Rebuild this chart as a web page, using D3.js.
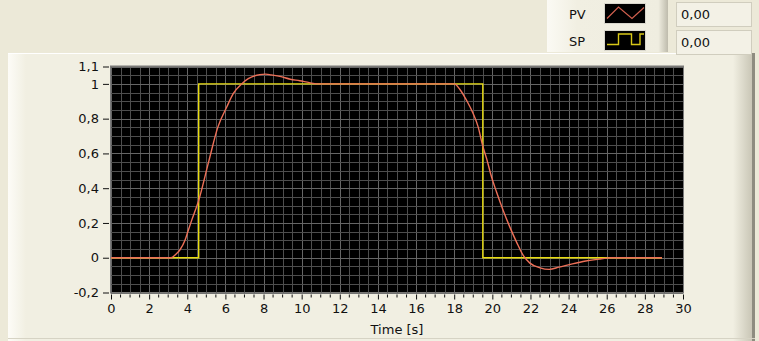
<!DOCTYPE html>
<html>
<head>
<meta charset="utf-8">
<script src="https://cdn.jsdelivr.net/npm/d3@7"></script>
<style>
  body { margin: 0; background: #ECE9D8; }
  svg { display: block; }
  text { font-family: Tahoma, "DejaVu Sans", sans-serif; font-size: 13px; fill: #111; }
</style>
</head>
<body>
<div id="chart"></div>
<script>
// PV samples (time in s, value)
const pvTime = [0, 3.15, 3.4, 3.62, 3.88, 4.05, 4.23, 4.6, 5.14, 5.6, 6.07, 6.41, 6.85, 7.2, 7.8, 8.1, 8.4, 8.86, 9.4, 9.9, 10.4, 10.8,
  18.0, 18.3, 18.65, 19.0, 19.26, 19.49, 19.7, 19.96, 20.22, 20.57, 20.92, 21.27, 21.62, 21.97, 22.5, 22.98, 23.5, 24.2, 24.9, 25.6, 26.0, 26.2, 28.9];
const pvValue = [0, 0, 0.02, 0.046, 0.1, 0.157, 0.215, 0.33, 0.56, 0.75, 0.867, 0.944, 1.0, 1.03, 1.053, 1.056, 1.052, 1.043, 1.027, 1.018, 1.007, 1.0,
  1.0, 0.968, 0.905, 0.828, 0.751, 0.646, 0.57, 0.464, 0.378, 0.272, 0.176, 0.09, 0.013, -0.031, -0.058, -0.067, -0.054, -0.035, -0.019, -0.008, -0.002, 0, 0];

// SP step (time in s, value)
const spTime = [0, 4.6, 4.6, 19.5, 19.5, 28.9];
const spValue = [0, 0, 1, 1, 0, 0];

const xTicks = d3.range(0, 31, 2);
const yTicks = [-0.2, 0, 0.2, 0.4, 0.6, 0.8, 1, 1.1];
const legendNames = ["PV", "SP"];
const digitalValues = ["0,00", "0,00"];

const W = 759, H = 341;
const plot = { left: 111, right: 683, top: 66.5, bottom: 292.5 };

const svg = d3.select("#chart").append("svg")
  .attr("width", W).attr("height", H);

// panel background
svg.append("rect").attr("width", W).attr("height", H).attr("fill", "#ECE9D8");

// chart frame
const grad = svg.append("defs").append("linearGradient").attr("id", "rightEdge");
grad.append("stop").attr("offset", "0%").attr("stop-color", "#F1EFE2");
grad.append("stop").attr("offset", "100%").attr("stop-color", "#C9C6B6");
const lgrad = svg.select("defs").append("linearGradient").attr("id", "leftEdge");
lgrad.append("stop").attr("offset", "0%").attr("stop-color", "#FDFCF7");
lgrad.append("stop").attr("offset", "100%").attr("stop-color", "#F1EFE2");

svg.append("rect").attr("x", 8).attr("y", 53).attr("width", 747).attr("height", 300)
  .attr("rx", 3).attr("fill", "#F1EFE2");
svg.append("rect").attr("x", 8).attr("y", 53).attr("width", 18).attr("height", 300).attr("fill", "url(#leftEdge)");
svg.append("rect").attr("x", 733).attr("y", 53).attr("width", 19).attr("height", 300).attr("fill", "url(#rightEdge)");
svg.append("rect").attr("x", 752).attr("y", 53).attr("width", 3).attr("height", 300).attr("fill", "#8E8C80");
svg.append("line").attr("x1", 8).attr("x2", 752).attr("y1", 53.5).attr("y2", 53.5).attr("stroke", "#FFFFFF");
svg.append("line").attr("x1", 8).attr("x2", 755).attr("y1", 338.5).attr("y2", 338.5).attr("stroke", "#D6D3C4");

// scales
const x = d3.scaleLinear().domain([0, 30]).range([plot.left, plot.right]);
const y = d3.scaleLinear().domain([-0.2, 1.1]).range([plot.bottom, plot.top]);
// LabVIEW style: decimal comma, plain hyphen minus
const fmt = v => String(Math.round(v * 10) / 10).replace(".", ",");

// plot background
svg.append("rect")
  .attr("x", plot.left).attr("y", plot.top)
  .attr("width", plot.right - plot.left).attr("height", plot.bottom - plot.top)
  .attr("fill", "#000");

// grid
const grid = svg.append("g").attr("shape-rendering", "crispEdges");
grid.selectAll(".gx").data(d3.range(0, 30.01, 0.5)).join("line")
  .attr("x1", d => Math.round(x(d)) + 0.5).attr("x2", d => Math.round(x(d)) + 0.5)
  .attr("y1", plot.top).attr("y2", plot.bottom)
  .attr("stroke", d => d % 2 === 0 ? "#666" : "#4e4e4e");
grid.selectAll(".gy").data(d3.range(-0.2, 1.101, 0.05)).join("line")
  .attr("y1", d => Math.round(y(d)) + 0.5).attr("y2", d => Math.round(y(d)) + 0.5)
  .attr("x1", plot.left).attr("x2", plot.right)
  .attr("stroke", "#4e4e4e");
grid.selectAll(".gy2").data(yTicks).join("line")
  .attr("y1", d => Math.round(y(d)) + 0.5).attr("y2", d => Math.round(y(d)) + 0.5)
  .attr("x1", plot.left).attr("x2", plot.right)
  .attr("stroke", "#666");
svg.append("rect")
  .attr("x", plot.left - 0.5).attr("y", plot.top - 0.5)
  .attr("width", plot.right - plot.left + 1).attr("height", plot.bottom - plot.top + 1)
  .attr("fill", "none").attr("stroke", "#7a7a7a");

// y axis
const yAxis = svg.append("g").attr("transform", `translate(${plot.left - 2},0)`)
  .call(d3.axisLeft(y).tickValues(yTicks).tickSize(6).tickPadding(4).tickFormat(fmt));
yAxis.select(".domain").remove();
yAxis.selectAll("line").attr("stroke", "#111");
yAxis.selectAll("text").style("font-size", "13px").attr("fill", "#111");

// x axis (ticks below plot)
const xAxis = svg.append("g").attr("transform", `translate(0,${plot.bottom + 2})`)
  .call(d3.axisBottom(x).tickValues(xTicks).tickSize(5).tickPadding(4).tickFormat(fmt));
xAxis.select(".domain").remove();
xAxis.selectAll("line").attr("stroke", "#111");
xAxis.selectAll("text").style("font-size", "13px").attr("fill", "#111");
svg.append("g").selectAll("line")
  .data(d3.range(0, 30.01, 0.5).filter(d => d % 2 !== 0))
  .join("line")
  .attr("x1", d => x(d)).attr("x2", d => x(d))
  .attr("y1", plot.bottom + 2).attr("y2", plot.bottom + 5)
  .attr("stroke", "#111");

svg.append("text").attr("x", (plot.left + plot.right) / 2).attr("y", 334)
  .attr("text-anchor", "middle").text("Time [s]");

// plots
const line = d3.line().x(d => x(d[0])).y(d => y(d[1]));
const plotArea = svg.append("g");
plotArea.append("path")
  .datum(spTime.map((t, i) => [t, spValue[i]]))
  .attr("d", line).attr("fill", "none").attr("stroke", "#E8DC10").attr("stroke-width", 1.4);
plotArea.append("path")
  .datum(pvTime.map((t, i) => [t, pvValue[i]]))
  .attr("d", d3.line().curve(d3.curveMonotoneX).x(d => x(d[0])).y(d => y(d[1])))
  .attr("fill", "none").attr("stroke", "#EE7058").attr("stroke-width", 1.4);

// legend
const lg = svg.append("g");
const lgrad2 = svg.select("defs").append("linearGradient").attr("id", "legendBg");
lgrad2.append("stop").attr("offset", "0%").attr("stop-color", "#FBFAF4");
lgrad2.append("stop").attr("offset", "25%").attr("stop-color", "#F1EFE2");
lgrad2.append("stop").attr("offset", "92%").attr("stop-color", "#EFEDE0");
lgrad2.append("stop").attr("offset", "100%").attr("stop-color", "#BEBBAC");
lg.append("rect").attr("x", 547).attr("y", 0).attr("width", 121).attr("height", 52)
  .attr("fill", "url(#legendBg)");
lg.selectAll(".lname").data(legendNames).join("text")
  .attr("x", 569).attr("y", (d, i) => 19 + i * 27).text(d => d);
lg.selectAll(".sw").data(legendNames).join("rect")
  .attr("x", 604.5).attr("y", (d, i) => 3.5 + i * 27).attr("width", 41).attr("height", 20)
  .attr("fill", "#000").attr("stroke", "#D8D6CC");
lg.append("path")
  .attr("d", "M607,18.5 L618.5,7 L632,18.5 L644,7.5")
  .attr("fill", "none").attr("stroke", "#D2604E").attr("stroke-width", 1.2);
lg.append("path")
  .attr("d", "M607,44.5 L618.5,44.5 L618.5,34 L631.5,34 L631.5,44.5 L640,44.5 L640,34 L644,34")
  .attr("fill", "none").attr("stroke", "#D8C818").attr("stroke-width", 1.4);

// digital displays
const dg = svg.append("g");
dg.selectAll("rect").data(digitalValues).join("rect")
  .attr("x", 676.5).attr("y", (d, i) => 2.5 + i * 28).attr("width", 75).attr("height", 24)
  .attr("fill", "#F3F1E6").attr("stroke", "#D0CDBE");
dg.selectAll("text").data(digitalValues).join("text")
  .attr("x", 681).attr("y", (d, i) => 19 + i * 28).text(d => d);
</script>
</body>
</html>
